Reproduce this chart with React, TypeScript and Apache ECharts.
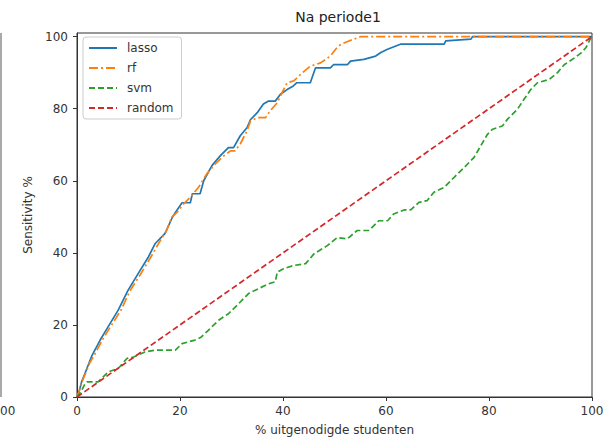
import React, { useEffect, useRef } from "react";
import * as echarts from "echarts";

const xTicks = [0, 20, 40, 60, 80, 100];
const yTicks = [0, 20, 40, 60, 80, 100];

const lassoX = [0, 0.3, 0.9, 2.0, 2.9, 4.5, 6.0, 8.0, 9.9, 11.9, 13.8, 15.2, 17.1, 18.5, 19.1, 20.4, 22.0, 22.4, 23.9, 24.6, 26.2, 27.8, 29.4, 30.4, 31.7, 33.0, 33.7, 35.0, 36.2, 37.2, 38.5, 39.5, 40.8, 42.0, 42.7, 45.3, 46.3, 49.2, 49.8, 52.5, 53.1, 55.7, 58.0, 59.0, 60.3, 62.8, 71.3, 71.6, 76.5, 76.8, 100];
const lassoY = [0, 1, 4.2, 8.2, 11.5, 15.8, 19.4, 24.1, 29.6, 34.3, 38.7, 42.6, 45.4, 49.8, 51.2, 53.9, 53.9, 56.4, 56.4, 60, 64.2, 66.9, 69.2, 69.2, 72.5, 74.7, 77, 78.9, 81.3, 82.1, 82.1, 84, 85.3, 86.3, 87.2, 87.2, 91.3, 91.3, 92.2, 92.2, 93.2, 93.7, 94.6, 95.6, 96.5, 97.9, 97.9, 98.8, 99.3, 100, 100];

const rfX = [0, 0.5, 1.2, 2.5, 3.5, 5.0, 6.5, 8.5, 10.3, 12.3, 14.2, 15.8, 17.4, 18.4, 19.4, 20.7, 22.0, 23.6, 25.2, 26.8, 28.5, 29.8, 30.7, 31.7, 33.0, 33.7, 35.0, 36.6, 37.5, 38.9, 39.8, 40.8, 42.1, 43.4, 45.3, 47.3, 49.2, 50.5, 51.2, 52.8, 55.1, 100];
const rfY = [0, 2, 5, 9.5, 12, 16, 19.5, 24, 29.5, 34, 38.5, 42.5, 46.2, 49.9, 51.2, 53.6, 55.4, 58.2, 61.9, 64.6, 66.9, 68.3, 68.3, 70.2, 73.8, 76.6, 77.5, 77.5, 79.4, 81.7, 84.4, 87.2, 87.7, 89.5, 91.8, 92.7, 94.6, 97.0, 97.8, 98.8, 100, 100];

const svmX = [0, 0.6, 1.6, 1.9, 4.1, 6.1, 8.0, 9.7, 11.0, 13.2, 15.2, 19.1, 20.4, 22.9, 24.0, 25.5, 27.5, 29.4, 31.4, 33.3, 35.3, 37.2, 38.5, 38.9, 40.1, 42.1, 44.4, 46.0, 48.6, 50.5, 52.5, 54.4, 56.7, 58.6, 60.3, 61.5, 63.5, 64.8, 66.4, 68.0, 69.3, 71.3, 73.2, 75.2, 77.1, 79.7, 80.7, 82.6, 83.6, 85.5, 86.8, 88.1, 89.4, 91.7, 93.3, 94.6, 96.6, 97.9, 98.8, 99.8, 100];
const svmY = [0, 1, 3.8, 4.2, 4.2, 7, 7.9, 10.7, 11.1, 12.5, 13, 13, 14.8, 15.8, 16.5, 18.5, 21.3, 23.1, 25.9, 28.7, 30.1, 31.4, 32, 34.7, 35.6, 36.5, 37, 39.7, 42, 44.2, 43.9, 46.2, 46.2, 48.9, 48.9, 50.8, 51.9, 51.9, 54, 54.5, 56.8, 58.2, 60.9, 63.7, 66.5, 72.9, 74.3, 75.2, 77.1, 79.8, 82.6, 85.3, 87.2, 88.1, 90, 92.2, 94.1, 95.5, 96.9, 99.7, 100];

const randomX = [0, 100];
const randomY = [0, 100];

const zip = (xs: number[], ys: number[]) => xs.map((x, i) => [x, ys[i]]);

const FONT = "DejaVu Sans";

export default function App() {
  const ref = useRef<HTMLDivElement>(null);
  useEffect(() => {
    if (!ref.current) return;
    const chart = echarts.init(ref.current, null, { renderer: "svg" });
    const lw = 1.7;
    chart.setOption({
      animation: false,
      backgroundColor: "#fff",
      textStyle: { fontFamily: FONT },
      title: {
        text: "Na periode1",
        left: 333,
        textAlign: "center",
        top: 5,
        textStyle: { fontFamily: FONT, fontSize: 14, fontWeight: "normal", color: "#222" },
      },
      grid: {
        left: 77,
        right: 23,
        top: 33,
        bottom: 43,
        show: true,
        borderColor: "#333",
        borderWidth: 1,
        outerBoundsMode: "none",
      },
      legend: {
        left: 83,
        top: 37,
        orient: "vertical",
        itemWidth: 28,
        itemHeight: 12,
        itemGap: 8,
        padding: [5, 8, 5, 5],
        backgroundColor: "#fff",
        borderColor: "#ccc",
        borderWidth: 1,
        borderRadius: 3,
        itemStyle: { opacity: 0, borderWidth: 0 },
        textStyle: { fontFamily: FONT, fontSize: 12, color: "#333", padding: [0, 0, 0, 5] },
        data: ["lasso", "rf", "svm", "random"],
      },
      xAxis: {
        type: "value",
        min: 0,
        max: 100,
        interval: 20,
        name: "% uitgenodigde studenten",
        nameLocation: "middle",
        nameGap: 27,
        nameTextStyle: { fontFamily: FONT, fontSize: 12, color: "#333" },
        axisLine: { show: true, onZero: false, lineStyle: { color: "#333" } },
        axisTick: { show: true, length: 4, lineStyle: { color: "#333" }, customValues: xTicks },
        axisLabel: { margin: 8, fontFamily: FONT, fontSize: 12, color: "#333", customValues: xTicks },
        splitLine: { show: false },
      },
      yAxis: {
        type: "value",
        min: 0,
        max: 101,
        name: "Sensitivity %",
        nameLocation: "middle",
        nameGap: 40,
        nameTextStyle: { fontFamily: FONT, fontSize: 12, color: "#333" },
        axisLine: { show: true, onZero: false, lineStyle: { color: "#333" } },
        axisTick: { show: true, length: 4, lineStyle: { color: "#333" }, customValues: yTicks },
        axisLabel: { margin: 9, fontFamily: FONT, fontSize: 12, color: "#333", customValues: yTicks },
        splitLine: { show: false },
      },
      series: [
        {
          name: "lasso",
          type: "line",
          symbol: "none",
          data: zip(lassoX, lassoY),
          lineStyle: { color: "#1f77b4", width: lw, type: "solid" },
          itemStyle: { color: "#1f77b4" },
        },
        {
          name: "rf",
          type: "line",
          symbol: "none",
          data: zip(rfX, rfY),
          lineStyle: { color: "#ff7f0e", width: lw, type: [9, 3, 2, 3] },
          itemStyle: { color: "#ff7f0e" },
        },
        {
          name: "svm",
          type: "line",
          symbol: "none",
          data: zip(svmX, svmY),
          lineStyle: { color: "#2ca02c", width: lw, type: [6, 3] },
          itemStyle: { color: "#2ca02c" },
        },
        {
          name: "random",
          type: "line",
          symbol: "none",
          data: zip(randomX, randomY),
          lineStyle: { color: "#d62728", width: lw, type: [6, 3] },
          itemStyle: { color: "#d62728" },
        },
      ],
      graphic: [
        {
          type: "line",
          shape: { x1: 1, y1: 33, x2: 1, y2: 397 },
          style: { stroke: "#555", lineWidth: 1 },
        },
        {
          type: "text",
          x: 0,
          y: 411,
          style: { text: "00", fontFamily: FONT, fontSize: 12, fill: "#333", align: "left", verticalAlign: "middle" },
        },
      ],
    });
    return () => chart.dispose();
  }, []);
  return <div ref={ref} style={{ position: "fixed", left: 0, top: 0, width: 615, height: 440 }} />;
}
